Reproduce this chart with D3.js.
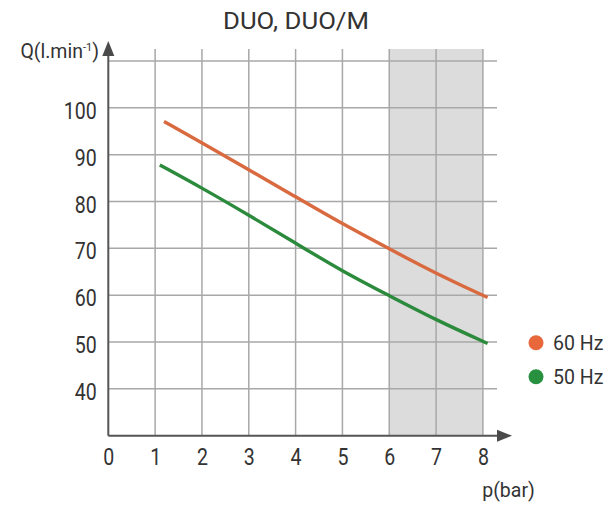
<!DOCTYPE html>
<html><head><meta charset="utf-8">
<script src="https://cdn.jsdelivr.net/npm/d3@7/dist/d3.min.js"></script>
<style>
body{margin:0;background:#fff;}
svg{display:block;}
text{font-family:Roboto,"Open Sans",sans-serif;}
</style></head><body>
<svg id="c" width="614" height="505"></svg>
<script>
const title = "DUO, DUO/M";
const yLabel = "Q(l.min";
const yLabelSup = "-1";
const xLabel = "p(bar)";
const xTicks = [0,1,2,3,4,5,6,7,8];
const yTicks = [40,50,60,70,80,90,100];
const yGrid = [40,50,60,70,80,90,100,110];
const shadeRange = [6,8];
const seriesNames = ["60 Hz","50 Hz"];
const seriesColors = ["#d96a3f","#2b8a3c"];
const legendColors = ["#e8683b","#28913f"];
const p60 = [1.19, 2, 3, 4, 5, 6, 7, 8.1];
const q60 = [97.1, 92.5, 86.8, 81.0, 75.2, 69.9, 64.6, 59.5];
const p50 = [1.1, 2, 3, 4, 5, 6, 7, 8.1];
const q50 = [87.8, 82.9, 77.1, 71.1, 65.1, 59.9, 54.7, 49.7];

const svg = d3.select("#c");
const x = d3.scaleLinear().domain([0,8]).range([108.3,482.9]);
const y = d3.scaleLinear().domain([30,110]).range([435.7,61]);
const gridRight = 497, gridTop = 49;
const sx = 0.815;

// shaded region
svg.append("rect").attr("x",x(shadeRange[0])).attr("y",gridTop)
  .attr("width",x(shadeRange[1])-x(shadeRange[0])).attr("height",y(30)-gridTop)
  .attr("fill","#dcdcdc");

// grid lines
svg.append("g").selectAll("line").data(xTicks.filter(d=>d>0)).join("line")
  .attr("x1",d=>x(d)).attr("x2",d=>x(d)).attr("y1",gridTop).attr("y2",y(30))
  .attr("stroke","#a8a8a8").attr("stroke-width",1.5);
svg.append("g").selectAll("line").data(yGrid).join("line")
  .attr("x1",x(0)).attr("x2",gridRight).attr("y1",d=>y(d)).attr("y2",d=>y(d))
  .attr("stroke","#a8a8a8").attr("stroke-width",1.5);

// axes lines with arrows
const ax = svg.append("g");
ax.append("line").attr("x1",x(0)).attr("x2",x(0)).attr("y1",y(30)).attr("y2",50)
  .attr("stroke","#555").attr("stroke-width",2);
ax.append("path").attr("d",`M${x(0)},41 L${x(0)-6},56 L${x(0)+6},56 Z`).attr("fill","#4a4a4a");
ax.append("line").attr("x1",x(0)).attr("x2",502).attr("y1",y(30)).attr("y2",y(30))
  .attr("stroke","#555").attr("stroke-width",2);
ax.append("path").attr("d",`M512,${y(30)} L497,${y(30)-6} L497,${y(30)+6} Z`).attr("fill","#4a4a4a");

// tick labels using d3 axes (condensed via horizontal scale)
const xAxis = svg.append("g").attr("transform",`translate(0,${y(30)})`)
  .call(d3.axisBottom(x).tickValues(xTicks).tickSize(0).tickFormat(d3.format("d")));
xAxis.select(".domain").remove();
xAxis.selectAll("text").attr("font-size",24).attr("fill","#333")
  .attr("y",29.3).attr("dy",0).attr("transform",`scale(${sx},1)`);

const yAxis = svg.append("g").attr("transform",`translate(${x(0)},0)`)
  .call(d3.axisLeft(y).tickValues(yTicks).tickSize(0).tickFormat(d3.format("d")));
yAxis.select(".domain").remove();
yAxis.selectAll("text").attr("font-size",24).attr("fill","#333")
  .attr("x",-11.6/sx).attr("dy","0.44em").attr("transform",`scale(${sx},1)`);
svg.selectAll(".tick text").attr("font-family","Roboto,sans-serif");

// lines
const line = d3.line().x(d=>x(d[0])).y(d=>y(d[1])).curve(d3.curveBasis);
const s60 = p60.map((p,i)=>[p,q60[i]]);
const s50 = p50.map((p,i)=>[p,q50[i]]);
[s60,s50].forEach((s,i)=>{
  svg.append("path").datum(s).attr("d",line).attr("fill","none")
    .attr("stroke",seriesColors[i]).attr("stroke-width",3.4);
});

// title & labels
svg.append("text").attr("x",296).attr("y",29).attr("text-anchor","middle")
  .attr("font-size",23).attr("fill","#333")
  .attr("textLength",146).attr("lengthAdjust","spacingAndGlyphs").text(title);
const yl = svg.append("text").attr("x",99).attr("y",58).attr("text-anchor","end")
  .attr("font-size",19.5).attr("fill","#333");
yl.append("tspan").text(yLabel);
yl.append("tspan").attr("dy",-7).attr("font-size",11).text(yLabelSup);
yl.append("tspan").attr("dy",7).text(")");
svg.append("text").attr("x",508.5).attr("y",496.5).attr("text-anchor","middle")
  .attr("font-size",19.5).attr("fill","#333").text(xLabel);

// legend
const lg = svg.append("g");
const legY = [342.7,376.7];
seriesNames.forEach((n,i)=>{
  lg.append("circle").attr("cx",536).attr("cy",legY[i]).attr("r",7.5).attr("fill",legendColors[i]);
  lg.append("text").attr("transform",`translate(553,${legY[i]+7.5}) scale(0.93,1)`)
    .attr("font-size",21).attr("fill","#333").text(n);
});
</script></body></html>
